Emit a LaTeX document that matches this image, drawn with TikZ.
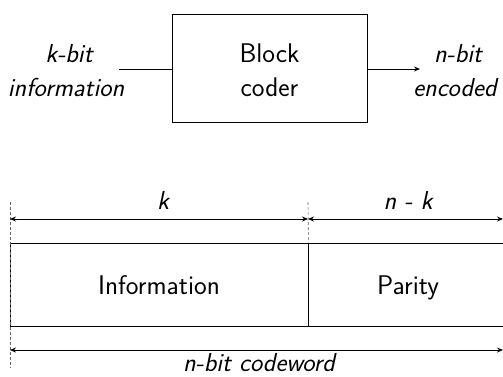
\documentclass[tikz,border=0pt]{standalone}
\usetikzlibrary{arrows.meta}
\begin{document}
\begin{tikzpicture}[x=1pt,y=-1pt,
  every node/.style={font=\sffamily\fontsize{27}{34}\selectfont},
  lbl/.style={font=\sffamily\itshape\fontsize{26}{34}\selectfont, align=center},
  wire/.style={line width=0.8pt},
  tip/.style={-{Stealth[length=6pt,width=5pt]}},
  dim/.style={line width=0.8pt,{Stealth[length=6pt,width=5pt]}-{Stealth[length=6pt,width=5pt]}},
  guide/.style={line width=0.6pt, dashed, dash pattern=on 3pt off 2pt, gray!80!black}]
\useasboundingbox (0,0) rectangle (503,376);

% encoder block
\node[draw, line width=0.8pt, minimum width=195pt, minimum height=108pt] (coder) at (269.5,68) {};
\node[anchor=base] (blk1) at (269.5,62) {Block};
\node[anchor=base] (blk2) at (269.5,96) {coder};
\node[lbl, anchor=base] (in1) at (69,62) {k-bit};
\node[lbl, anchor=base] (in2) at (66,96) {information};
\node[lbl, anchor=base] (out1) at (458,62) {n-bit};
\node[lbl, anchor=base] (out2) at (455,96) {encoded};
\coordinate (inend) at (119,69);
\coordinate (outend) at (420,69);
\draw[wire] (inend) -- (coder.west |- inend);
\draw[wire,tip] (coder.east |- outend) -- (outend);

% codeword layout
\node[draw, line width=0.8pt, minimum width=298pt, minimum height=83pt, inner sep=0pt] (info) at (159,284.5) {};
\node[draw, line width=0.8pt, minimum width=197pt, minimum height=83pt, inner sep=0pt, anchor=west] (parity) at (info.east) {};
\node[anchor=base] (infotxt) at (159,294) {Information};
\node[anchor=base] (partxt) at (408,294) {Parity};

\coordinate (gl1) at (10,202);
\coordinate (gl2) at (10,368);
\coordinate (gm1) at (308,202);
\draw[guide] (gl1) -- (gl2);
\draw[guide] (gm1) -- (info.north east);

\coordinate (ka) at (10,219);
\coordinate (kb) at (308,219);
\coordinate (nb) at (503,219);
\draw[dim] (ka) -- (kb);
\draw[dim] (kb) -- (nb);
\node[lbl, anchor=base] (klbl) at (163,209) {k};
\node[lbl, anchor=base] (nklbl) at (408,209) {n - k};

\coordinate (ca) at (10,350);
\coordinate (cb) at (503,350);
\draw[dim] (ca) -- (cb);
\node[lbl, anchor=base] (cwlbl) at (259,371) {n-bit codeword};
\end{tikzpicture}
\end{document}
